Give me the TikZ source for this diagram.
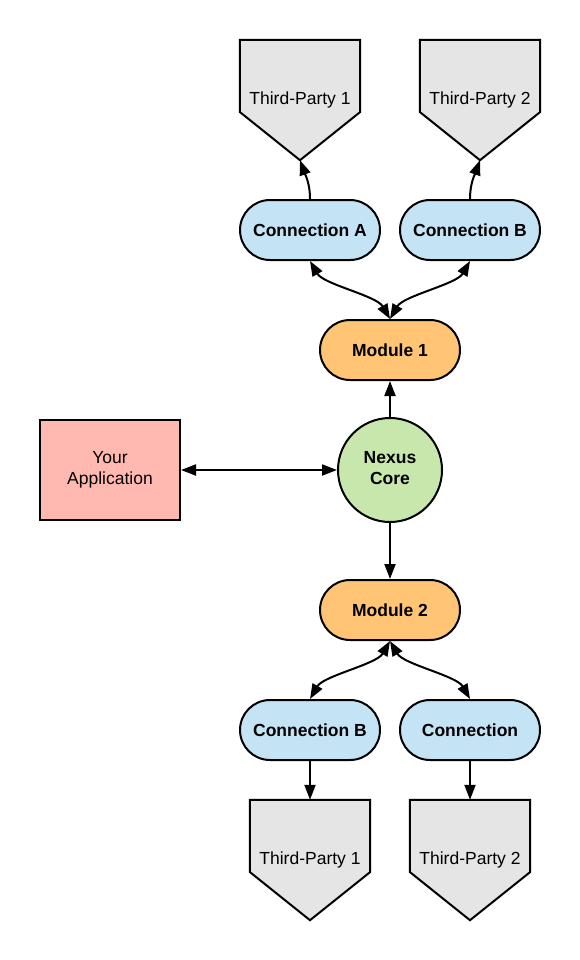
\documentclass[tikz,border=0pt]{standalone}
\usepackage{fontspec}
\setmainfont{Liberation Sans}
\usetikzlibrary{arrows.meta,backgrounds}
\definecolor{appfill}{HTML}{FFB9B0}
\definecolor{corefill}{HTML}{C7E7AD}
\definecolor{modfill}{HTML}{FFC575}
\definecolor{connfill}{HTML}{C4E4F6}
\definecolor{tpfill}{HTML}{E5E5E5}
\begin{document}
\begin{tikzpicture}[x=1pt,y=-1pt,
  base/.style={draw=black, line width=2pt, inner sep=0pt, align=center,
    font=\fontsize{17.5}{21}\selectfont},
  boldbase/.style={base, font=\fontsize{17.5}{21}\selectfont\bfseries},
  connbox/.style={boldbase, fill=connfill, rounded corners=30pt, minimum width=140pt, minimum height=60pt},
  modbox/.style={boldbase, fill=modfill, rounded corners=30pt, minimum width=140pt, minimum height=60pt},
  appbox/.style={base, fill=appfill, minimum width=140pt, minimum height=100pt},
  corebox/.style={boldbase, circle, fill=corefill, minimum size=104pt, text depth=5pt},
  tpbox/.style={inner sep=0pt, align=center, minimum width=120pt, minimum height=120pt,
    font=\fontsize{17.5}{21}\selectfont},
  tpshape/.style={draw=black, line width=2pt, fill=tpfill, line join=miter},
  arr/.style={line width=2pt, -{Triangle[length=15pt,width=11pt]}},
  dbl/.style={line width=2pt, {Triangle[length=15pt,width=11pt]}-{Triangle[length=15pt,width=11pt]}}
]
\useasboundingbox (0,0) rectangle (580,960);

% nodes
\node[tpbox] (tp1) at (300,100) {Third-Party 1};
\node[tpbox] (tp2) at (480,100) {Third-Party 2};
\node[connbox] (cA) at (310,230) {Connection A};
\node[connbox] (cB) at (470,230) {Connection B};
\node[modbox] (m1) at (390,350) {Module 1};
\node[appbox] (app) at (110,470) {Your\\Application};
\node[corebox] (core) at (390,470) {Nexus\\Core};
\node[modbox] (m2) at (390,610) {Module 2};
\node[connbox] (cB2) at (310,730) {Connection B};
\node[connbox] (cC) at (470,730) {Connection};
\node[tpbox] (tp3) at (310,860) {Third-Party 1};
\node[tpbox] (tp4) at (470,860) {Third-Party 2};

\begin{scope}[on background layer]
\foreach \n in {tp1,tp2,tp3,tp4}
  \draw[tpshape] (\n.north west) -- (\n.north east) -- ([yshift=-12pt]\n.east)
    -- (\n.south) -- ([yshift=-12pt]\n.west) -- cycle;
\end{scope}

% connectors
\draw[arr] (cA.north) to[out=90,in=-70] (tp1.south);
\draw[arr] (cB.north) to[out=90,in=-110] (tp2.south);
\draw[dbl] (cA.south) to[out=-60,in=120,looseness=0.7] (m1.north);
\draw[dbl] (cB.south) to[out=-120,in=60,looseness=0.7] (m1.north);
\draw[arr] (core.north) -- (m1.south);
\draw[dbl] (app.east) -- (core.west);
\draw[arr] (core.south) -- (m2.north);
\draw[dbl] (m2.south) to[out=-120,in=60,looseness=0.7] (cB2.north);
\draw[dbl] (m2.south) to[out=-60,in=120,looseness=0.7] (cC.north);
\draw[arr] (cB2.south) -- (tp3.north);
\draw[arr] (cC.south) -- (tp4.north);
\end{tikzpicture}
\end{document}
